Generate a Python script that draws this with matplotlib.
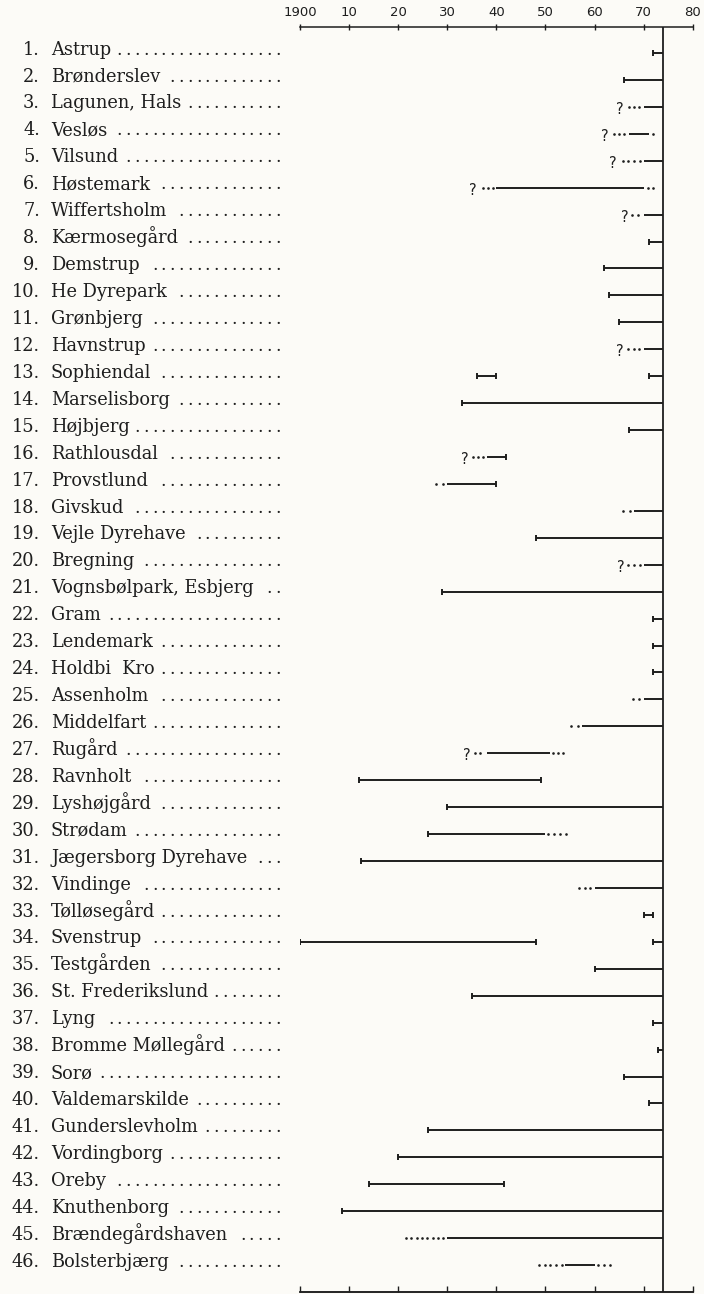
import numpy as np
import matplotlib
matplotlib.use('Agg')
import matplotlib.pyplot as plt
from matplotlib.transforms import blended_transform_factory

names = ["Astrup", "Brønderslev", "Lagunen, Hals", "Vesløs", "Vilsund", "Høstemark",
         "Wiffertsholm", "Kærmosegård", "Demstrup", "He Dyrepark", "Grønbjerg",
         "Havnstrup", "Sophiendal", "Marselisborg", "Højbjerg", "Rathlousdal",
         "Provstlund", "Givskud", "Vejle Dyrehave", "Bregning", "Vognsbølpark, Esbjerg",
         "Gram", "Lendemark", "Holdbi  Kro", "Assenholm", "Middelfart", "Rugård",
         "Ravnholt", "Lyshøjgård", "Strødam", "Jægersborg Dyrehave", "Vindinge",
         "Tølløsegård", "Svenstrup", "Testgården", "St. Frederikslund", "Lyng",
         "Bromme Møllegård", "Sorø", "Valdemarskilde", "Gunderslevholm", "Vordingborg",
         "Oreby", "Knuthenborg", "Brændegårdshaven", "Bolsterbjærg"]

# solid periods: (row, from, to, cap at start, cap at end)
solid = [(1, 1972, 1974, 1, 0), (2, 1966, 1974, 1, 0), (3, 1970, 1974, 0, 0),
         (4, 1967, 1971, 0, 0), (5, 1970, 1974, 0, 0), (6, 1940, 1970, 0, 0),
         (7, 1970, 1974, 0, 0), (8, 1971, 1974, 1, 0), (9, 1962, 1974, 1, 0),
         (10, 1963, 1974, 1, 0), (11, 1965, 1974, 1, 0), (12, 1970, 1974, 0, 0),
         (13, 1936, 1940, 1, 1), (13, 1971, 1974, 1, 0), (14, 1933, 1974, 1, 0),
         (15, 1967, 1974, 1, 0), (16, 1938, 1942, 0, 1), (17, 1930, 1940, 0, 1),
         (18, 1968, 1974, 0, 0), (19, 1948, 1974, 1, 0), (20, 1970, 1974, 0, 0),
         (21, 1929, 1974, 1, 0), (22, 1972, 1974, 1, 0), (23, 1972, 1974, 1, 0),
         (24, 1972, 1974, 1, 0), (25, 1970, 1974, 0, 0), (26, 1957.5, 1974, 0, 0),
         (27, 1938, 1951, 0, 0), (28, 1912, 1949, 1, 1), (29, 1930, 1974, 1, 0),
         (30, 1926, 1950, 1, 0), (31, 1912.5, 1974, 1, 0), (32, 1960, 1974, 0, 0),
         (33, 1970, 1972, 1, 1), (34, 1900, 1948, 1, 1), (34, 1972, 1974, 1, 0),
         (35, 1960, 1974, 1, 0), (36, 1935, 1974, 1, 0), (37, 1972, 1974, 1, 0),
         (38, 1973, 1974, 1, 0), (39, 1966, 1974, 1, 0), (40, 1971, 1974, 1, 0),
         (41, 1926, 1974, 1, 0), (42, 1920, 1974, 1, 0), (43, 1914, 1941.5, 1, 1),
         (44, 1908.5, 1974, 1, 0), (45, 1930, 1974, 0, 0), (46, 1954, 1960, 0, 0)]

# uncertain periods, drawn dotted: (row, first dot, last dot, number of dots)
dotted = [(3, 1967, 1969, 3), (4, 1964, 1966, 3), (4, 1972, 1972, 1),
          (5, 1965.7, 1969.3, 4), (6, 1937.2, 1939.4, 3), (6, 1970.8, 1972, 2),
          (7, 1967.7, 1968.9, 2), (12, 1966.9, 1969.1, 3), (16, 1935.2, 1937.2, 3),
          (17, 1927.8, 1929.2, 2), (18, 1965.9, 1967.2, 2), (20, 1966.9, 1969.3, 3),
          (25, 1967.9, 1969.1, 2), (26, 1955.3, 1956.7, 2), (27, 1935.6, 1936.7, 2),
          (27, 1951.6, 1953.5, 3), (30, 1950.6, 1954.2, 4), (32, 1956.9, 1959.1, 3),
          (45, 1921.6, 1929.2, 8), (46, 1948.7, 1953.3, 5), (46, 1960.8, 1963.1, 3)]

# question marks: (row, year)
question = [(3, 1965.2), (4, 1962.1), (5, 1963.8), (6, 1935.3), (7, 1966.2),
            (12, 1965.2), (16, 1933.5), (20, 1965.3), (27, 1933.9)]

years = np.arange(1900, 1981, 10)
year_labels = ["1900", "10", "20", "30", "40", "50", "60", "70", "80"]
now = 1974

ink = '#1e1e1e'
bg = '#fcfbf7'
fsize = 12.8

W, H = 704, 1294
fig = plt.figure(figsize=(W / 100, H / 100), dpi=100)
fig.patch.set_facecolor(bg)
ax = fig.add_axes([300 / W, 2 / H, 392.7 / W, (H - 27 - 2) / H])
ax.set_facecolor(bg)
ax.set_xlim(1900, 1980)
ax.set_ylim(47.0, 0.035)

for r, a, b, cl, cr in solid:
    ax.plot([a, b], [r, r], color=ink, lw=1.4, solid_capstyle='butt')
    if cl:
        ax.plot([a], [r], marker='|', ms=4.5, mew=1.4, color=ink)
    if cr:
        ax.plot([b], [r], marker='|', ms=4.5, mew=1.4, color=ink)

for r, a, b, n in dotted:
    xs = np.linspace(a, b, n)
    ax.plot(xs, [r] * n, ls='none', marker='o', ms=1.9, color=ink, mew=0)

for r, x in question:
    ax.text(x, r + 0.1, "?", ha='center', va='center', fontsize=10.5,
            family='DejaVu Sans', color=ink)

ax.axvline(now, color=ink, lw=1.3)

ax.set_xticks(years)
ax.set_xticklabels(year_labels)
ax.xaxis.set_ticks_position('top')
ax.tick_params(axis='x', direction='inout', length=5, width=1, pad=3,
               labelsize=9.5, colors=ink)
ax.set_yticks([])
for s in ['left', 'right']:
    ax.spines[s].set_visible(False)
for s in ['top', 'bottom']:
    ax.spines[s].set_color(ink)
    ax.spines[s].set_linewidth(1.1)

sec = ax.secondary_xaxis('bottom')
sec.set_xticks(years)
sec.tick_params(direction='in', length=4, width=1, labelbottom=False, colors=ink)
sec.spines['bottom'].set_color(ink)
sec.spines['bottom'].set_linewidth(1.1)

# place labels
trans = blended_transform_factory(fig.transFigure, ax.transData)
texts = []
for i, name in enumerate(names, 1):
    ax.text(40 / W, i + 0.06, f"{i}.", transform=trans, ha='right', va='baseline',
            fontsize=fsize, family='DejaVu Serif', color=ink)
    t = ax.text(51 / W, i + 0.06, name, transform=trans, ha='left', va='baseline',
                fontsize=fsize, family='DejaVu Serif', color=ink)
    texts.append(t)

# dot leaders, aligned in columns
fig.canvas.draw()
rend = fig.canvas.get_renderer()
for i, t in enumerate(texts, 1):
    right = t.get_window_extent(rend).x1
    x = 278.0
    while x - right > 7:
        ax.text(x / W, i + 0.06, ".", transform=trans, ha='center', va='baseline',
                fontsize=fsize, family='DejaVu Serif', color=ink)
        x -= 8.8

fig.savefig('out.png', dpi=100, facecolor=bg)
